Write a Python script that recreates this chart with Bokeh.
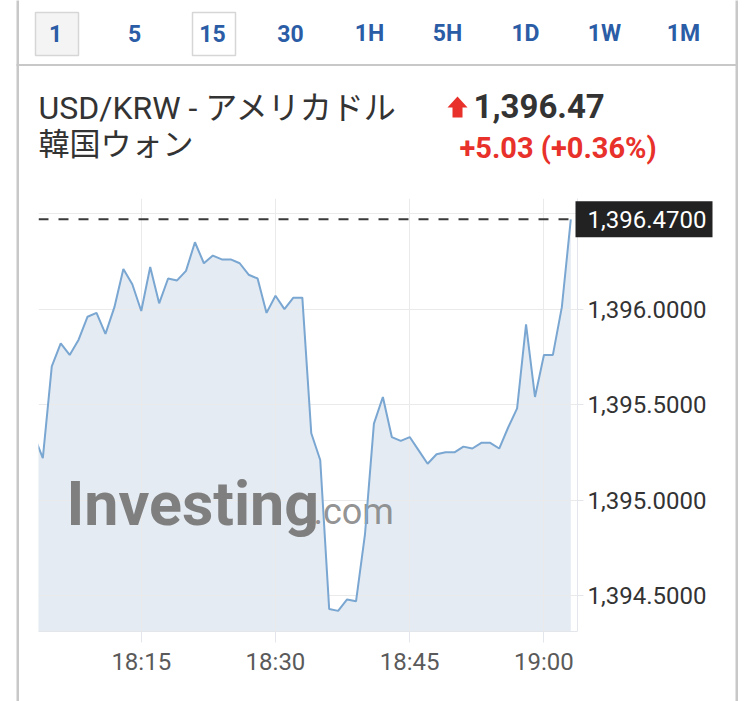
import datetime
from bokeh.plotting import figure
from bokeh.core.properties import value
from bokeh.models import (ColumnDataSource, Range1d, FixedTicker, NumeralTickFormatter,
                          DatetimeTickFormatter, Label, Span)
from bokeh.embed import file_html
from bokeh.resources import INLINE

dt = datetime.datetime

# USD/KRW 1-minute closes, 18:03 .. 19:03
first_minute = "18:03"
prices = [1395.34, 1395.22, 1395.70, 1395.82, 1395.76, 1395.84, 1395.96, 1395.98, 1395.87, 1396.01,
          1396.21, 1396.13, 1395.99, 1396.22, 1396.03, 1396.16, 1396.15, 1396.20, 1396.35, 1396.24,
          1396.28, 1396.26, 1396.26, 1396.24, 1396.18, 1396.16, 1395.98, 1396.07, 1396.00, 1396.06,
          1396.06, 1395.35, 1395.21, 1394.43, 1394.42, 1394.48, 1394.47, 1394.82, 1395.40, 1395.54,
          1395.33, 1395.31, 1395.33, 1395.26, 1395.19, 1395.24, 1395.25, 1395.25, 1395.28, 1395.27,
          1395.30, 1395.30, 1395.27, 1395.38, 1395.48, 1395.92, 1395.54, 1395.76, 1395.76, 1396.01,
          1396.47]
last_price = 1396.47
price_ticks = [1394.5, 1395.0, 1395.5, 1396.0, 1396.5]
time_ticks = ["18:15", "18:30", "18:45", "19:00"]
intervals = ["1", "5", "15", "30", "1H", "5H", "1D", "1W", "1M"]
title_1 = "USD/KRW - アメリカドル"
title_2 = "韓国ウォン"
price_text = "1,396.47"
change_text = "+5.03 (+0.36%)"
tag_text = "1,396.4700"

day = dt(2024, 5, 20)
def at(hm):
    h, m = hm.split(":")
    return day.replace(hour=int(h), minute=int(m))

t0 = at(first_minute)
times = [t0 + datetime.timedelta(minutes=i) for i in range(len(prices))]
epoch = dt(1970, 1, 1)
def ms(t):
    return (t - epoch).total_seconds() * 1000

y_min, y_max = 1394.312, 1396.579
src = ColumnDataSource(data=dict(t=times, price=prices))

FONT = "Roboto, 'Noto Sans CJK JP'"

p = figure(width=745, height=701, output_backend="svg", toolbar_location=None,
           x_axis_type="datetime", y_axis_location="right",
           x_range=Range1d(t0 + datetime.timedelta(seconds=31), t0 + datetime.timedelta(minutes=60, seconds=45)),
           y_range=Range1d(y_min, y_max),
           min_border_left=38, min_border_right=168, min_border_top=198, min_border_bottom=70)
p.outline_line_color = None
p.background_fill_color = "white"
# pixel-like ranges for the widget chrome around the chart (frame is 38..577 x 198..631)
p.extra_x_ranges = {"px": Range1d(38, 577)}
p.extra_y_ranges = {"px": Range1d(631, 198)}
px = dict(x_range_name="px", y_range_name="px", level="overlay")

# grid
p.xgrid.grid_line_color = "#eaeaea"
p.ygrid.grid_line_color = "#eaeaea"

# axes
xa = p.xaxis[0]
xa.ticker = FixedTicker(ticks=[ms(at(s)) for s in time_ticks])
xa.formatter = DatetimeTickFormatter(minutes="%H:%M", hourmin="%H:%M", hours="%H:%M", minsec="%H:%M")
xa.axis_line_color = "#e3e6ea"
xa.major_tick_line_color = "#e3e6ea"
xa.major_tick_out = 11
xa.major_tick_in = 0
xa.minor_tick_line_color = None
xa.major_label_text_font = FONT
xa.major_label_text_font_size = "24px"
xa.major_label_text_color = "#5a5a5a"
xa.major_label_standoff = 5

ya = p.yaxis[0]
ya.ticker = FixedTicker(ticks=price_ticks)
ya.formatter = NumeralTickFormatter(format="0,0.0000")
ya.axis_line_color = "#e3e6ea"
ya.major_tick_line_color = "#e3e6ea"
ya.major_tick_out = 6
ya.major_tick_in = 0
ya.minor_tick_line_color = None
ya.major_label_text_font = FONT
ya.major_label_text_font_size = "24px"
ya.major_label_text_color = "#333333"
ya.major_label_standoff = 4

area = p.varea(x="t", y1=y_min, y2="price", source=src, fill_color="#e4ebf2", fill_alpha=1)
area.level = "image"
p.line(x="t", y="price", source=src, line_color="#7aa6d2", line_width=2)

# watermark (under the line)
wm1 = Label(x=66, y=503, x_units="canvas", y_units="canvas", text="Investing",
            text_font=FONT, text_font_style="bold", text_font_size="61px",
            text_color="#737373", text_alpha=0.9, text_baseline="alphabetic")
wm2 = Label(x=313, y=511, x_units="canvas", y_units="canvas", text=".com",
            text_font=FONT, text_font_size="36px",
            text_color="#858585", text_alpha=0.9, text_baseline="alphabetic")
wm1.level = "underlay"
wm2.level = "underlay"
p.add_layout(wm1)
p.add_layout(wm2)

# last price line
p.add_layout(Span(location=last_price, dimension="width", line_color="#3a3a3a",
                  line_width=2, line_dash="10 10"))

# widget borders and button boxes
p.quad(left=[16, 735, 16], right=[18.5, 737.5, 737.5], top=[0, 0, 63.5], bottom=[701, 701, 65.5],
       fill_color="#c8c8c8", line_color=None, **px)
p.quad(left=[35, 192], right=[78, 235], top=[12, 12], bottom=[55, 55],
       fill_color=["#f4f4f4", "white"], line_color="#d6d6d6", line_width=1.5, **px)

# interval buttons text
xs_btn = [55, 134, 212, 290, 369, 447, 525, 604, 683]
p.text(x=xs_btn, y=[33.2] * len(xs_btn), text=intervals, text_font=value(FONT),
       text_font_style="bold", text_font_size=value("23px"), text_color="#2b5ca6",
       text_align="center", text_baseline="alphabetic", **px)

# header
p.text(x=[38], y=[107], text=[title_1], text_font=value(FONT),
       text_font_size=value("32px"), text_color="#333333", text_baseline="alphabetic", **px)
p.text(x=[38], y=[143.5], text=[title_2], text_font=value(FONT),
       text_font_size=value("31px"), text_color="#333333", text_baseline="alphabetic", **px)
p.text(x=[473], y=[105.8], text=[price_text], text_font=value(FONT), text_font_style="bold",
       text_font_size=value("33px"), text_color="#333333", text_baseline="alphabetic", **px)
p.text(x=[459], y=[147.1], text=[change_text], text_font=value(FONT), text_font_style="bold",
       text_font_size=value("29px"), text_color="#e8312a", text_baseline="alphabetic", **px)
p.patch(x=[447, 457, 467, 462, 462, 452, 452], y=[107, 96, 107, 107, 117, 117, 107],
        fill_color="#e8312a", line_color=None, **px)

# last price tag on the price axis
half = 18 * (y_max - y_min) / 433
p.quad(left=[575], right=[712], top=[last_price + half], bottom=[last_price - half],
       fill_color="#222222", line_color=None, x_range_name="px", level="overlay")
p.text(x=[587], y=[last_price], text=[tag_text], text_font=value(FONT),
       text_font_size=value("24px"), text_color="white", text_baseline="middle",
       x_range_name="px", level="overlay")

open("out.html", "w").write(file_html(p, INLINE))
